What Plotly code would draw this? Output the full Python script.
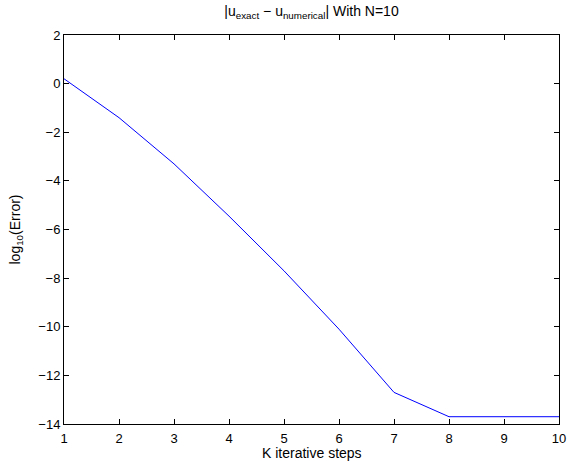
import plotly.graph_objects as go

k_steps = [1, 2, 3, 4, 5, 6, 7, 8, 9, 10]
log_error = [0.2, -1.4, -3.3, -5.45, -7.7, -10.1, -12.7, -13.7, -13.7, -13.7]
x_ticks = [1, 2, 3, 4, 5, 6, 7, 8, 9, 10]
y_ticks = [-14, -12, -10, -8, -6, -4, -2, 0, 2]
y_ticklabels = ["−14", "−12", "−10", "−8", "−6", "−4", "−2", "0", "2"]
x_title = "K iterative steps"
y_title = "log<sub>10</sub>(Error)"
chart_title = "|u<sub>exact</sub> − u<sub>numerical</sub>| With N=10"

FONT = "Liberation Sans, Arial, Helvetica, sans-serif"
H, T, B = 461, 35, 37
plot_h = H - T - B

fig = go.Figure()
fig.add_trace(go.Scatter(
    x=k_steps, y=log_error, mode="lines",
    line=dict(color="#0000ff", width=1),
    showlegend=False,
))

axis_common = dict(
    showline=True, linecolor="black", linewidth=1, mirror="allticks",
    ticks="inside", ticklen=5, tickwidth=1, tickcolor="black",
    showgrid=False, zeroline=False, automargin=False,
    tickfont=dict(family=FONT, size=13, color="black"),
)

fig.update_layout(
    width=569, height=H,
    margin=dict(l=64, r=10, t=T, b=B),
    paper_bgcolor="white", plot_bgcolor="white",
    font=dict(family=FONT, color="black"),
    title=dict(
        text=chart_title,
        x=0.5, xref="paper", xanchor="center",
        y=1 - 11 / H, yref="container", yanchor="middle",
        font=dict(family=FONT, size=14, color="black"),
    ),
    xaxis=dict(
        range=[1, 10], tickvals=x_ticks, ticklabelstandoff=2,
        **axis_common,
    ),
    yaxis=dict(
        range=[-14, 2], tickvals=y_ticks, ticktext=y_ticklabels,
        title=dict(text=y_title, font=dict(family=FONT, size=14), standoff=14),
        **axis_common,
    ),
    annotations=[dict(
        text=x_title, xref="paper", yref="paper",
        x=0.5, y=-(453 - (H - B)) / plot_h,
        xanchor="center", yanchor="middle", showarrow=False, borderpad=0,
        font=dict(family=FONT, size=14, color="black"),
    )],
)

fig.write_html(
    "out.html",
    config={"displayModeBar": False},
    post_script="document.body.style.margin='0';document.body.style.overflow='hidden';",
)
